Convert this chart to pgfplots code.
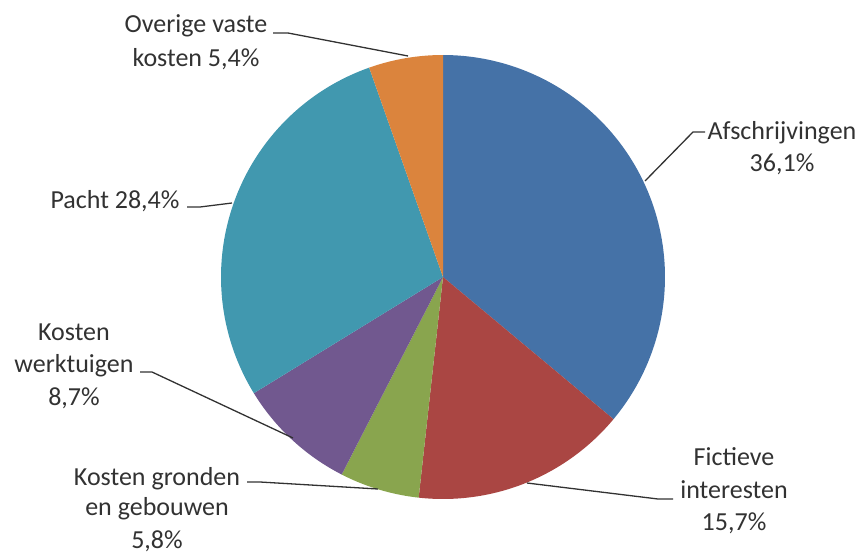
\documentclass[border=0pt]{standalone}
\usepackage{pgfplots}
\pgfplotsset{compat=1.18}
\usepackage{pgfplotstable}
\usepackage{fontspec}
\setmainfont{Carlito}
\definecolor{cA}{RGB}{69,114,167}
\definecolor{cB}{RGB}{170,70,67}
\definecolor{cC}{RGB}{137,165,78}
\definecolor{cD}{RGB}{113,88,143}
\definecolor{cE}{RGB}{65,152,175}
\definecolor{cF}{RGB}{219,132,61}
\definecolor{txt}{RGB}{50,50,50}
% share of fixed costs (percent), clockwise from 12 o'clock
\pgfplotstableread{
label pct
Afschrijvingen 36.1
Fictieve_interesten 15.7
Kosten_gronden 5.8
Kosten_werktuigen 8.7
Pacht 28.4
Overige_vaste_kosten 5.4
}\costs
\tikzset{lbl/.style={txt, anchor=base, inner sep=0pt, font=\fontsize{26}{32}\selectfont}}
\begin{document}
\begin{tikzpicture}
\begin{axis}[width=866pt, height=553pt, scale only axis,
  xmin=0, xmax=866, ymin=0, ymax=553, y dir=reverse,
  hide axis, clip=false]
% slices: domain = cumulative percent (total 100.1)
\addplot[fill=cA, draw=none, domain=0:36.1, samples=90, variable=\t]
  ({443+222*sin(360/100.1*\t)}, {277-222*cos(360/100.1*\t)}) -- (443,277) -- cycle;
\addplot[fill=cB, draw=none, domain=36.1:51.8, samples=50, variable=\t]
  ({443+222*sin(360/100.1*\t)}, {277-222*cos(360/100.1*\t)}) -- (443,277) -- cycle;
\addplot[fill=cC, draw=none, domain=51.8:57.6, samples=25, variable=\t]
  ({443+222*sin(360/100.1*\t)}, {277-222*cos(360/100.1*\t)}) -- (443,277) -- cycle;
\addplot[fill=cD, draw=none, domain=57.6:66.3, samples=30, variable=\t]
  ({443+222*sin(360/100.1*\t)}, {277-222*cos(360/100.1*\t)}) -- (443,277) -- cycle;
\addplot[fill=cE, draw=none, domain=66.3:94.7, samples=80, variable=\t]
  ({443+222*sin(360/100.1*\t)}, {277-222*cos(360/100.1*\t)}) -- (443,277) -- cycle;
\addplot[fill=cF, draw=none, domain=94.7:100.1, samples=25, variable=\t]
  ({443+222*sin(360/100.1*\t)}, {277-222*cos(360/100.1*\t)}) -- (443,277) -- cycle;
% leader lines
\addplot[txt, line width=1.3pt] coordinates {(273,33) (288,33) (408,56)};
\addplot[txt, line width=1.3pt] coordinates {(705,132) (693,132) (645,181)};
\addplot[txt, line width=1.3pt] coordinates {(187,207) (200,207) (232,203)};
\addplot[txt, line width=1.3pt] coordinates {(140,372) (152,372) (293,438)};
\addplot[txt, line width=1.3pt] coordinates {(247,482) (260,482) (378,489)};
\addplot[txt, line width=1.3pt] coordinates {(673,499) (658,499) (527,483)};
% labels
\node[lbl] at (196,33) {Overige vaste};
\node[lbl] at (196,67) {kosten 5,4\%};
\node[lbl] at (782,140) {Afschrijvingen};
\node[lbl] at (782,172) {36,1\%};
\node[lbl] at (115,208) {Pacht 28,4\%};
\node[lbl] at (74,340) {Kosten};
\node[lbl] at (74,372) {werktuigen};
\node[lbl] at (74,405) {8,7\%};
\node[lbl] at (157,485) {Kosten gronden};
\node[lbl] at (157,515) {en gebouwen};
\node[lbl] at (157,548) {5,8\%};
\node[lbl] at (734,465) {Fictieve};
\node[lbl] at (734,498) {interesten};
\node[lbl] at (734,530) {15,7\%};
\end{axis}
\pgfresetboundingbox
\path (current axis.south west) rectangle (current axis.north east);
\end{tikzpicture}
\end{document}
